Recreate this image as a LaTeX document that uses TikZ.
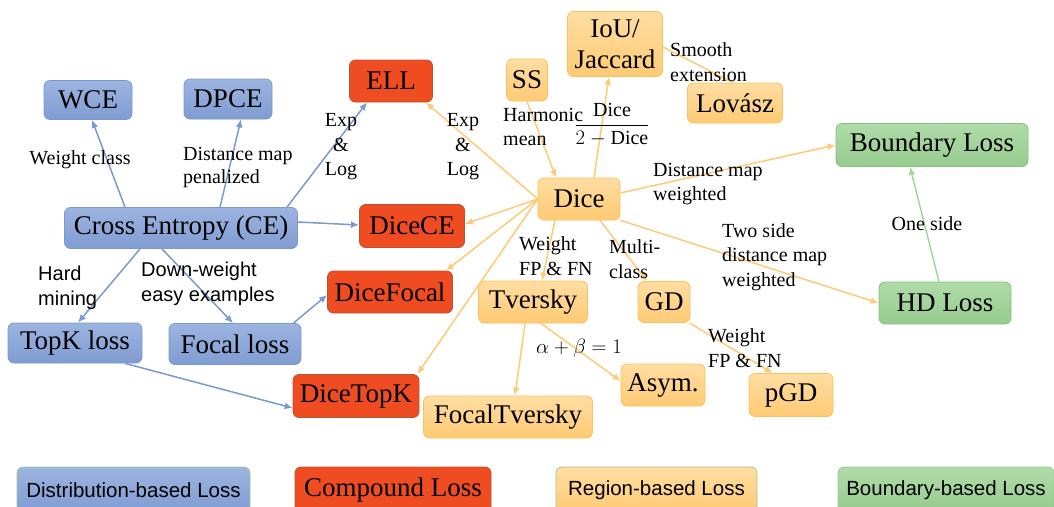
\documentclass[tikz,border=0pt]{standalone}
\usepackage{amsmath}
\usepackage{fontspec}
\setmainfont{Liberation Serif}
\setsansfont{Liberation Sans}
\usetikzlibrary{arrows.meta}
\definecolor{bluefillT}{HTML}{9DB4E0}
\definecolor{bluefillB}{HTML}{7F9CD2}
\definecolor{blueline}{HTML}{7B98CF}
\definecolor{redfill}{HTML}{F04C22}
\definecolor{redline}{HTML}{B4562F}
\definecolor{orfillT}{HTML}{FFDDA2}
\definecolor{orfillB}{HTML}{FFCA74}
\definecolor{orline}{HTML}{F8C25A}
\definecolor{orarrow}{HTML}{FFC978}
\definecolor{grfillT}{HTML}{B0DBA9}
\definecolor{grfillB}{HTML}{96CB8E}
\definecolor{grline}{HTML}{86C27E}
\definecolor{grarrow}{HTML}{A2D69C}
\definecolor{legline}{HTML}{9CCB8F}
\tikzset{
  box/.style={rounded corners=6pt, inner sep=0pt, line width=0.8pt, font=\fontsize{27}{31}\selectfont, align=center},
  distbox/.style={box, top color=bluefillT, bottom color=bluefillB, draw=blueline},
  compbox/.style={box, fill=redfill, draw=redline},
  regbox/.style={box, top color=orfillT, bottom color=orfillB, draw=orline},
  bndbox/.style={box, top color=grfillT, bottom color=grfillB, draw=grline},
  legsans/.style={font=\sffamily\fontsize{20.5}{24}\selectfont},
  lbl/.style={inner sep=0pt, font=\fontsize{20}{24.5}\selectfont, align=left},
  slbl/.style={lbl, font=\sffamily\fontsize{20}{24.5}\selectfont},
  tip/.style={-{Latex[length=8pt,width=7pt]}},
  barrow/.style={draw=blueline, line width=1.5pt, tip},
  oarrow/.style={draw=orarrow, line width=1.5pt, tip},
  oline/.style={draw=orarrow, line width=1.5pt},
  garrow/.style={draw=grarrow, line width=1.5pt, tip},
}
\begin{document}
\begin{tikzpicture}[x=1pt,y=-1pt]
\useasboundingbox (0,0) rectangle (1054,506);
% distribution-based
\node[distbox, minimum width=88pt, minimum height=39pt] (wce) at (88,100) {WCE};
\node[distbox, minimum width=88pt, minimum height=40pt] (dpce) at (228,99) {DPCE};
\node[distbox, minimum width=233pt, minimum height=41pt] (ce) at (181,228) {Cross Entropy (CE)};
\node[distbox, minimum width=134pt, minimum height=40pt] (topk) at (75,343) {TopK loss};
\node[distbox, minimum width=132pt, minimum height=41pt] (focal) at (235,344) {Focal loss};
% compound
\node[compbox, minimum width=83pt, minimum height=42pt] (ell) at (391,81) {ELL};
\node[compbox, minimum width=105pt, minimum height=43pt] (dicece) at (412,226) {DiceCE};
\node[compbox, minimum width=125pt, minimum height=42pt] (dicefocal) at (390,292) {DiceFocal};
\node[compbox, minimum width=126pt, minimum height=43pt] (dicetopk) at (356,396) {DiceTopK};
% region-based
\node[regbox, minimum width=41pt, minimum height=42pt] (ss) at (527,80) {SS};
\node[regbox, minimum width=95pt, minimum height=65pt] (iou) at (615,44) {IoU/\\Jaccard};
\node[regbox, minimum width=95pt, minimum height=40pt] (lovasz) at (735,103) {Lovász};
\node[regbox, minimum width=82pt, minimum height=42pt] (dice) at (579,199) {Dice};
\node[regbox, minimum width=109pt, minimum height=42pt] (tversky) at (533,302) {Tversky};
\node[regbox, minimum width=52pt, minimum height=41pt] (gd) at (664,302) {GD};
\node[regbox, minimum width=169pt, minimum height=42pt] (focaltversky) at (508,417) {FocalTversky};
\node[regbox, minimum width=84pt, minimum height=42pt] (asym) at (663,385) {Asym.};
\node[regbox, minimum width=84pt, minimum height=43pt] (pgd) at (791,395) {pGD};
% boundary-based
\node[bndbox, minimum width=192pt, minimum height=43pt] (boundary) at (932,145) {Boundary Loss};
\node[bndbox, minimum width=132pt, minimum height=42pt] (hd) at (945,303) {HD Loss};
% legend
\node[distbox, draw=legline, legsans, minimum width=233pt, minimum height=46pt] (legdist) at (133.5,490) {Distribution-based Loss};
\node[compbox, minimum width=196pt, minimum height=46pt] (legcomp) at (393,490) {Compound Loss};
\node[regbox, draw=legline, legsans, minimum width=201pt, minimum height=46pt] (legreg) at (656.5,490) {Region-based Loss};
\node[bndbox, draw=legline, legsans, minimum width=216pt, minimum height=46pt] (legbnd) at (946,490) {Boundary-based Loss};
% blue connectors
\draw[barrow] ([xshift=-56pt]ce.north) -- ([xshift=4pt]wce.south);
\draw[barrow] ([xshift=39pt]ce.north) -- ([xshift=13pt]dpce.south);
\draw[barrow] ([xshift=106pt]ce.north) -- ([xshift=-24pt]ell.south);
\draw[barrow] ([yshift=6pt]ce.east) -- ([yshift=1pt]dicece.west);
\draw[barrow] ([xshift=-41pt]ce.south) -- ([xshift=3pt]topk.north);
\draw[barrow] ([xshift=-19pt]ce.south) -- ([xshift=-2pt]focal.north);
\draw[barrow] ([xshift=-8pt]focal.north east) -- ([yshift=-3pt]dicefocal.west);
\draw[barrow] ([xshift=50pt]topk.south) -- ([yshift=-12pt]dicetopk.west);
% orange connectors
\draw[oarrow] (dice.west) -- ([xshift=-7pt]ell.south east);
\draw[oarrow] (ss.south) -- ([xshift=-23pt]dice.north);
\draw[oarrow] ([xshift=15pt]dice.north) -- ([xshift=-6pt]iou.south);
\draw[oline] ([yshift=-3pt]iou.east) -- ([xshift=-2pt]lovasz.north);
\draw[oarrow] ([yshift=6pt]dice.east) -- (boundary.west);
\draw[oarrow] (dice.south east) -- (hd.west);
\draw[oarrow] (dice.west) -- ([yshift=2pt]dicece.east);
\draw[oarrow] (dice.west) -- ([xshift=-7pt]dicefocal.north east);
\draw[oarrow] (dice.west) -- ([xshift=-2pt]dicetopk.north east);
\draw[oarrow] ([xshift=-24pt]dice.south) -- ([xshift=9pt]tversky.north);
\draw[oarrow] ([xshift=21pt]dice.south) -- ([xshift=-17pt]gd.north);
\draw[oarrow] ([xshift=-8pt]tversky.south) -- ([xshift=7pt]focaltversky.north);
\draw[oarrow] ([xshift=8pt]tversky.south) -- ([yshift=4pt]asym.west);
\draw[oarrow] ([xshift=-1pt]gd.south east) -- ([xshift=24pt]pgd.north west);
% green connector
\draw[garrow] ([xshift=-6pt]hd.north) -- ([xshift=-22pt]boundary.south);
% labels
\node[lbl] (lwc) at (80,160) {Weight class};
\node[lbl, anchor=west, font=\fontsize{20}{23}\selectfont] (ldm) at (183,168) {Distance map\\penalized};
\node[lbl, align=center] (lexpa) at (341,147) {Exp\\\&\\Log};
\node[lbl, align=center] (lexpb) at (463,147) {Exp\\\&\\Log};
\node[lbl, anchor=west] (lhm) at (503,127) {Harmonic\\mean};
\node[lbl] (lfrac) at (612,125) {$\dfrac{\text{Dice}}{2-\text{Dice}}$};
\node[lbl, anchor=west] (lsm) at (670,62) {Smooth\\extension};
\node[lbl, anchor=west] (ldw) at (653,184) {Distance map\\weighted};
\node[lbl, anchor=west] (ltw) at (722,257) {Two side\\distance map\\weighted};
\node[lbl] (los) at (927,224) {One side};
\node[lbl, anchor=west] (lwt) at (519,256) {Weight\\FP \& FN};
\node[lbl, anchor=west] (lmc) at (609,259) {Multi-\\class};
\node[lbl] (lab) at (579,348) {$\alpha+\beta=1$};
\node[lbl, anchor=west] (lwg) at (708,348) {Weight\\FP \& FN};
\node[slbl, anchor=west] (lhard) at (38,288) {Hard\\mining};
\node[slbl, anchor=west] (ldown) at (141,284) {Down-weight\\easy examples};
\end{tikzpicture}
\end{document}
